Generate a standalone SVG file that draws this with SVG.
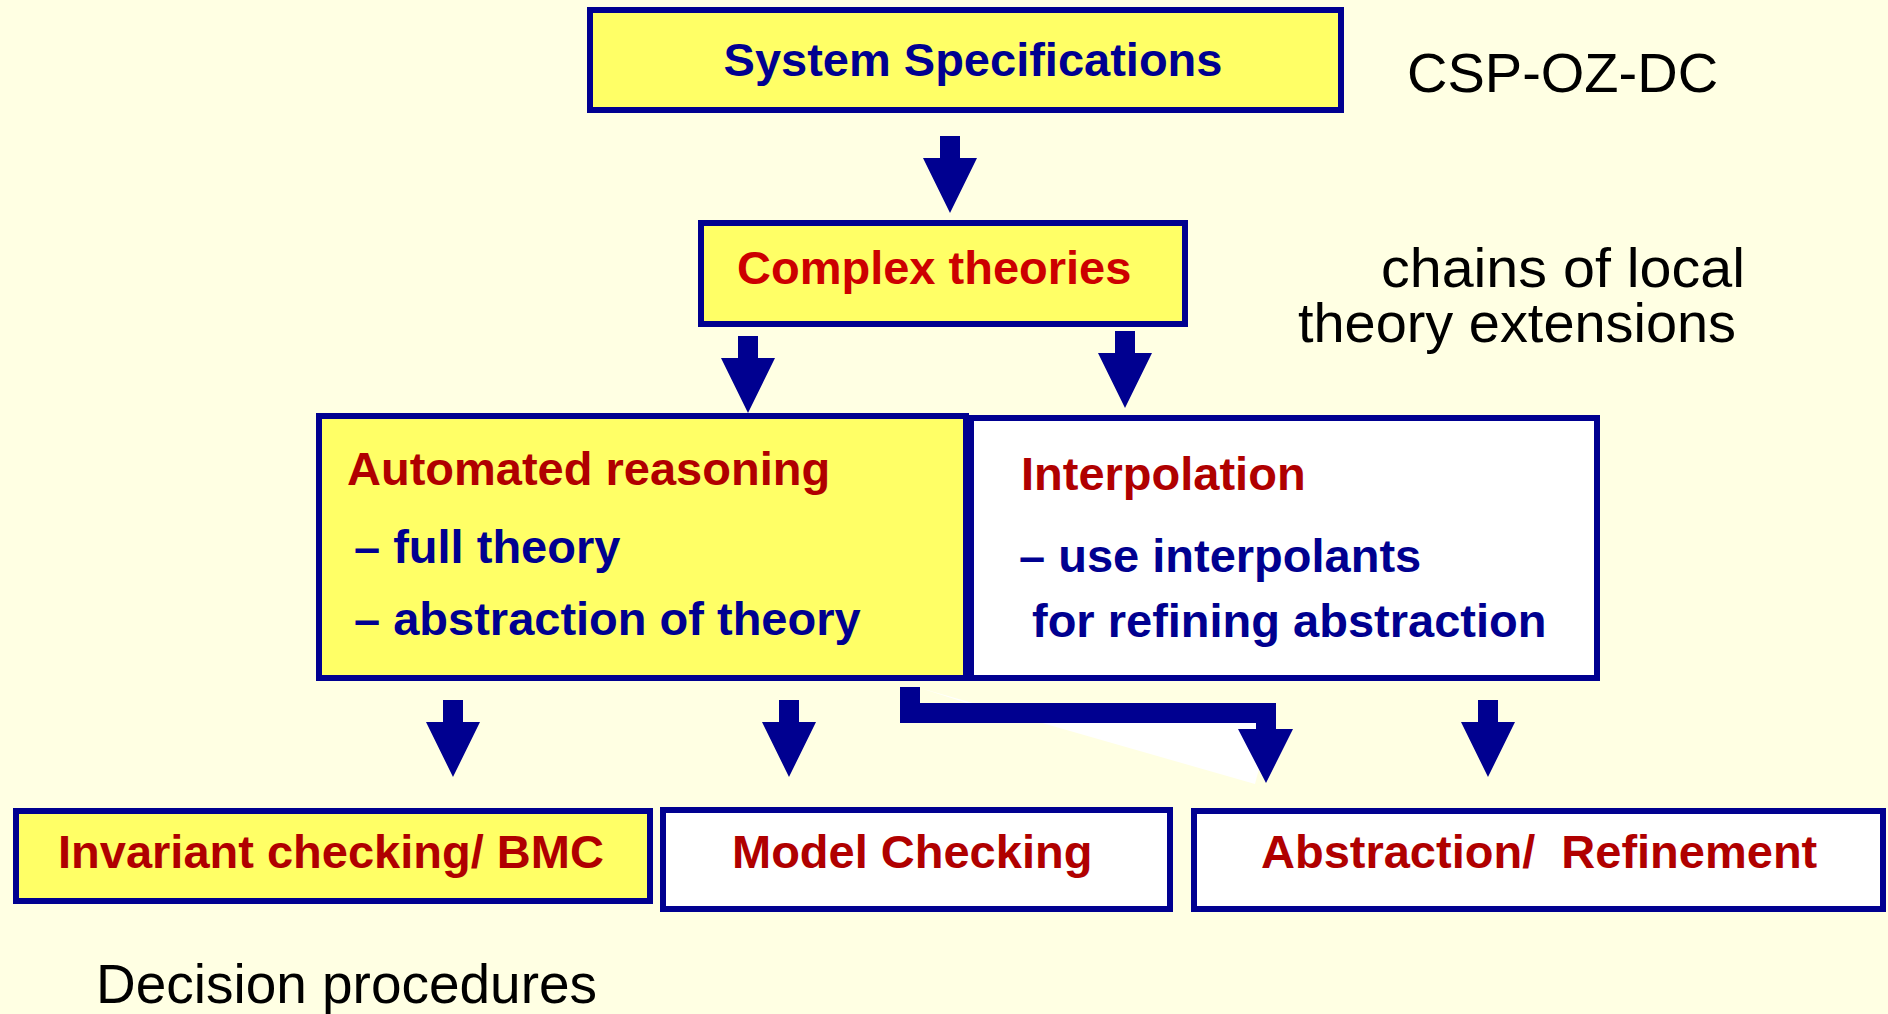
<svg xmlns="http://www.w3.org/2000/svg" width="1888" height="1014" viewBox="0 0 1888 1014">
  <style>
    .bg { fill: #FFFFE3; }
    .box { stroke: #000090; stroke-width: 6; }
    .hl { fill: #FFFF66; }
    .plain { fill: #FFFFFF; }
    .t { font-family: "Liberation Sans", Arial, sans-serif; font-weight: bold; font-size: 47px; }
    .navy { fill: #000090; }
    .red { fill: #B00000; }
    .bright { fill: #CC0000; }
    .note { font-family: "Liberation Sans", Arial, sans-serif; font-size: 56px; fill: #000000; }
    .arrow { fill: #000090; }
  </style>
  <defs>
    <!-- block arrow, tip at the origin -->
    <path id="down" d="M -10,-77 H 10 V -55 H 27 L 0,0 L -27,-55 H -10 Z"/>
  </defs>

  <rect class="bg" x="0" y="0" width="1888" height="1014"/>

  <g id="connectors">
    <use href="#down" class="arrow" x="950" y="213"/>
    <use href="#down" class="arrow" x="748" y="413"/>
    <use href="#down" class="arrow" x="1125" y="408"/>
    <use href="#down" class="arrow" x="453" y="777"/>
    <use href="#down" class="arrow" x="789" y="777"/>
    <use href="#down" class="arrow" x="1488" y="777"/>
    <!-- elbow from the reasoning box to abstraction/refinement, with its light shadow -->
    <polygon points="920,688 967,703 1276,703 1255,784" fill="#FFFFFF"/>
    <path class="arrow" d="M 900,687 H 920 V 703 H 1276 V 729 H 1293 L 1266,783 L 1238,729 H 1256 V 723 H 900 Z"/>
  </g>

  <g id="system-specifications">
    <rect class="box hl" x="590" y="10" width="751" height="100"/>
    <text class="t navy" x="973" y="76" text-anchor="middle">System Specifications</text>
  </g>

  <g id="csp-oz-dc">
    <text class="note" x="1407" y="92" font-size="57">CSP-OZ-DC</text>
  </g>

  <g id="complex-theories">
    <rect class="box hl" x="701" y="223" width="484" height="101"/>
    <text class="t bright" x="737" y="284">Complex theories</text>
  </g>

  <g id="local-extensions">
    <text class="note" x="1381" y="287" textLength="364" lengthAdjust="spacingAndGlyphs">chains of local</text>
    <text class="note" x="1298" y="342" textLength="438" lengthAdjust="spacingAndGlyphs">theory extensions</text>
  </g>

  <g id="automated-reasoning">
    <rect class="box hl" x="319" y="416" width="647" height="262"/>
    <text class="t red" x="347" y="485">Automated reasoning</text>
    <text class="t navy" x="354" y="563">– full theory</text>
    <text class="t navy" x="354" y="635">– abstraction of theory</text>
  </g>

  <g id="interpolation">
    <rect class="box plain" x="971" y="418" width="626" height="260"/>
    <text class="t red" x="1021" y="490">Interpolation</text>
    <text class="t navy" x="1019" y="572">– use interpolants</text>
    <text class="t navy" x="1032" y="637">for refining abstraction</text>
  </g>

  <g id="invariant-checking">
    <rect class="box hl" x="16" y="811" width="634" height="90"/>
    <text class="t red" x="58" y="868">Invariant checking/ BMC</text>
  </g>

  <g id="model-checking">
    <rect class="box plain" x="663" y="810" width="507" height="99"/>
    <text class="t red" x="732" y="868">Model Checking</text>
  </g>

  <g id="abstraction-refinement">
    <rect class="box plain" x="1194" y="811" width="689" height="98"/>
    <text class="t red" x="1261" y="868" xml:space="preserve" style="white-space: pre">Abstraction/  Refinement</text>
  </g>

  <g id="decision-procedures">
    <text class="note" x="96" y="1003" textLength="501" lengthAdjust="spacingAndGlyphs">Decision procedures</text>
  </g>
</svg>
